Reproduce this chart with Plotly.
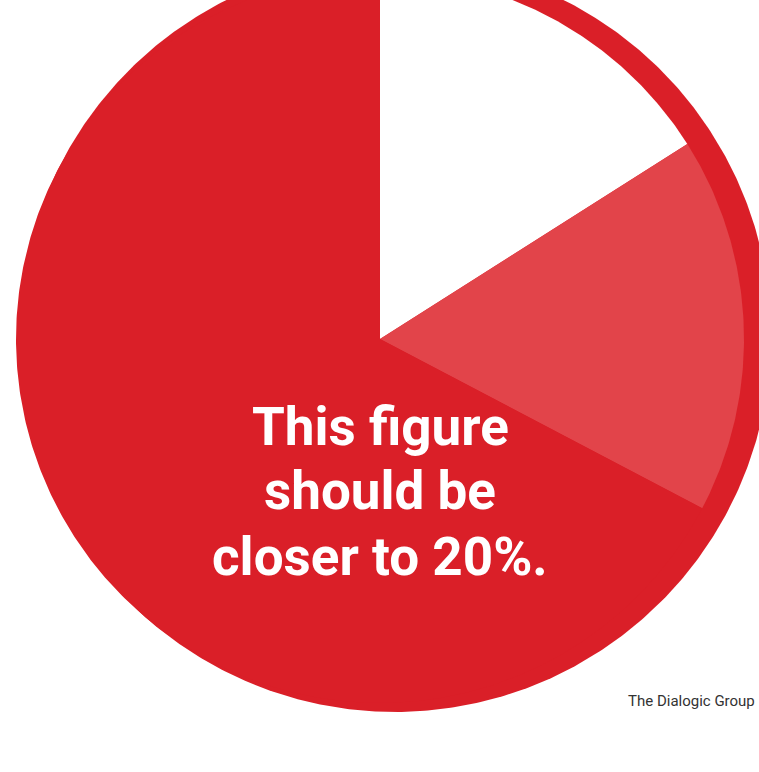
import numpy as np
import plotly.graph_objects as go

# ---- data ----
slice_labels = ["Reported share", "Adjacent share", "Remainder"]
slice_values = [16, 16.7, 67.3]
slice_colors = ["#FFFFFF", "#E2444A", "#DA1F28"]
ring_color = "#DA1F28"
text_lines = ["This figure", "should be", "closer to 20%."]
source_text = "The Dialogic Group"

# ---- layout constants (pixels) ----
W, H = 759, 772
CX, CY, R = 380, 339, 364          # pie centre and radius
RING_CX, RING_CY, RING_R = 395, 336, 376  # backing circle


def px_to_data(px, py):
    return (px - CX) / R, (CY - py) / R


fig = go.Figure()

# backing circle (the dark red disc behind the pie)
t = np.linspace(0, 2 * np.pi, 721)
rcx, rcy = px_to_data(RING_CX, RING_CY)
rr = RING_R / R
fig.add_trace(go.Scatter(
    x=rcx + rr * np.cos(t), y=rcy + rr * np.sin(t),
    mode="lines", fill="toself", fillcolor=ring_color,
    line=dict(width=0, color=ring_color), hoverinfo="skip", showlegend=False,
))

# pie slices, clockwise from 12 o'clock
vals = np.array(slice_values, dtype=float)
cum = np.concatenate([[0], np.cumsum(vals)]) / vals.sum() * 2 * np.pi
for lab, a0, a1, col in zip(slice_labels, cum[:-1], cum[1:], slice_colors):
    th = np.linspace(a0, a1, max(int((a1 - a0) / (2 * np.pi) * 720), 4))
    xs = np.concatenate([[0], np.sin(th), [0]])
    ys = np.concatenate([[0], np.cos(th), [0]])
    fig.add_trace(go.Scatter(
        x=xs, y=ys, mode="lines", fill="toself", fillcolor=col,
        line=dict(width=0, color=col), name=lab, hoverinfo="name",
        showlegend=False,
    ))

# central message
line_centres = [427, 491, 557]
for txt, py in zip(text_lines, line_centres):
    ax, ay = px_to_data(380, py)
    fig.add_annotation(
        x=ax, y=ay, xref="x", yref="y", text=txt, showarrow=False,
        xanchor="center", yanchor="middle",
        font=dict(family="Roboto", size=53, color="#FFFFFF", weight=700),
    )

# source label, kept fully inside the right edge
sx, sy = px_to_data(757, 701)
fig.add_annotation(
    x=sx, y=sy, xref="x", yref="y", text=source_text, showarrow=False,
    xanchor="right", yanchor="middle",
    font=dict(family="Roboto", size=15, color="#333333"),
)

x0, y0 = px_to_data(0, H)
x1, y1 = px_to_data(W, 0)
fig.update_layout(
    width=W, height=H,
    margin=dict(l=0, r=0, t=0, b=0),
    paper_bgcolor="#FFFFFF", plot_bgcolor="#FFFFFF",
    xaxis=dict(range=[x0, x1], visible=False, fixedrange=True),
    yaxis=dict(range=[y0, y1], visible=False, fixedrange=True),
    showlegend=False,
)

fig.write_html(
    "out.html",
    config={"displayModeBar": False},
    post_script="document.body.style.margin='0px';"
                "document.body.style.overflow='hidden';",
)
